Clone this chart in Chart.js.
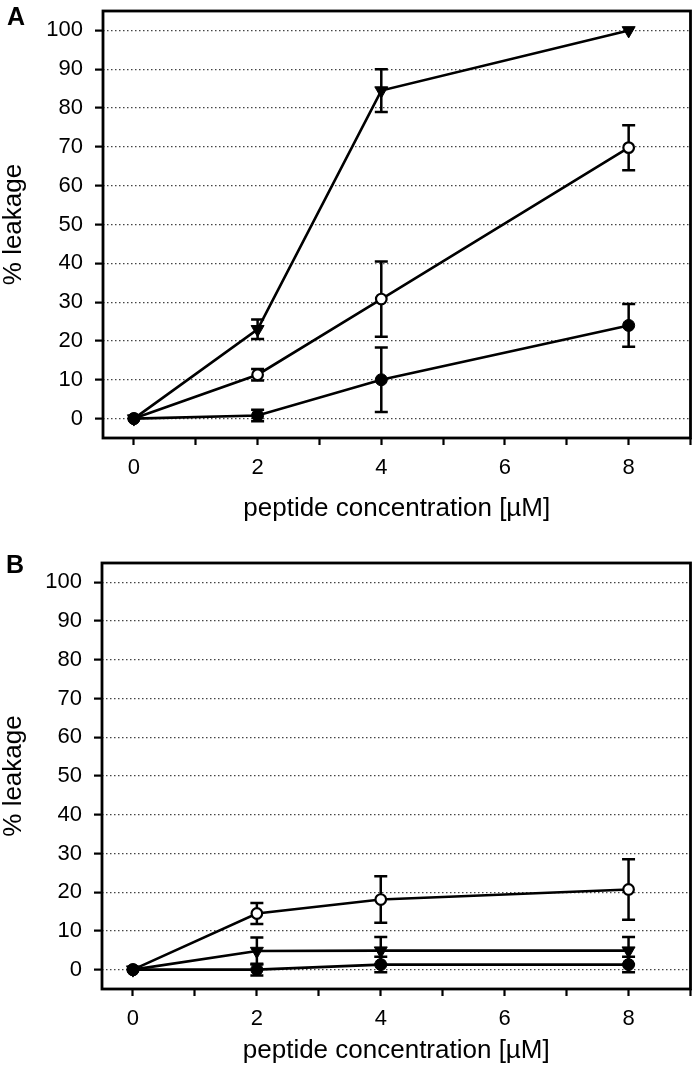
<!DOCTYPE html>
<html>
<head>
<meta charset="utf-8">
<script src="https://cdn.jsdelivr.net/npm/chart.js@4.4.1/dist/chart.umd.min.js"></script>
<style>
  body { margin: 0; background: #fff; width: 699px; height: 1066px; position: relative; overflow: hidden; }
  canvas { position: absolute; left: 0; }
  .panel-label { position: absolute; font: bold 25px 'Liberation Sans', Arial, sans-serif; line-height: 25px; color: #000; }
</style>
</head>
<body>
<canvas id="chartA" width="699" height="535" style="top:0"></canvas>
<canvas id="chartB" width="699" height="531" style="top:535px"></canvas>
<div class="panel-label" style="left:7px;top:4px">A</div>
<div class="panel-label" style="left:6px;top:552px">B</div>
<script>
// x values (peptide concentration, µM) shared by both panels
const concentrations = [0, 2, 4, 8];

// axis ticks
const yTickValues = [0, 10, 20, 30, 40, 50, 60, 70, 80, 90, 100];
const xTickValues = [0, 1, 2, 3, 4, 5, 6, 7, 8, 9];
const xTickLabels = ['0', '', '2', '', '4', '', '6', '', '8', ''];

// Panel A - % leakage and error (+/-)
const aTriangle = [0, 23, 84.5, 100];
const aTriangleErr = [0, 2.5, 5.5, 0];
const aOpen = [0, 11.3, 30.8, 69.8];
const aOpenErr = [0, 1.5, 9.7, 5.8];
const aFilled = [0, 0.8, 10, 24];
const aFilledErr = [0, 1.5, 8.3, 5.5];

// Panel B - % leakage and error (+/-)
const bTriangle = [0, 4.8, 4.9, 4.9];
const bTriangleErr = [0, 3.5, 3.5, 3.5];
const bOpen = [0, 14.5, 18.1, 20.7];
const bOpenErr = [0, 2.7, 6, 7.8];
const bFilled = [0, 0, 1.3, 1.3];
const bFilledErr = [0, 1.5, 2, 2];

Chart.defaults.font.family = "'Liberation Sans', Arial, sans-serif";
Chart.defaults.color = '#000';

function toPoints(values) {
    return concentrations.map((x, i) => ({ x: x, y: values[i] }));
}

// Draws vertical error bars with caps, behind the markers
const errorBarPlugin = {
    id: 'errorBars',
    beforeDatasetsDraw(chart) {
        const ctx = chart.ctx;
        const yScale = chart.scales.y;
        ctx.save();
        ctx.strokeStyle = '#000';
        ctx.lineWidth = 2.5;
        chart.data.datasets.forEach((ds, di) => {
            const meta = chart.getDatasetMeta(di);
            meta.data.forEach((pt, i) => {
                const err = ds.errors[i];
                if (!err) return;
                const v = ds.data[i].y;
                const top = yScale.getPixelForValue(v + err);
                const bottom = yScale.getPixelForValue(v - err);
                ctx.beginPath();
                ctx.moveTo(pt.x, top);
                ctx.lineTo(pt.x, bottom);
                ctx.moveTo(pt.x - 6.5, top);
                ctx.lineTo(pt.x + 6.5, top);
                ctx.moveTo(pt.x - 6.5, bottom);
                ctx.lineTo(pt.x + 6.5, bottom);
                ctx.stroke();
            });
        });
        ctx.restore();
    }
};

// Box around the plot area
const framePlugin = {
    id: 'frame',
    afterDraw(chart) {
        const a = chart.chartArea;
        const ctx = chart.ctx;
        ctx.save();
        ctx.strokeStyle = '#000';
        ctx.lineWidth = 2.8;
        ctx.strokeRect(a.left, a.top, a.right - a.left, a.bottom - a.top);
        ctx.restore();
    }
};

function seriesStyle(style) {
    const base = {
        borderColor: '#000',
        borderWidth: 2.6,
        pointBorderColor: '#000',
        pointBorderWidth: 2.2,
        tension: 0,
        fill: false
    };
    if (style === 'triangle') {
        return Object.assign(base, { pointStyle: 'triangle', rotation: 180, pointRadius: 7.5, pointBackgroundColor: '#000', pointBorderWidth: 1 });
    }
    if (style === 'open') {
        return Object.assign(base, { pointStyle: 'circle', pointRadius: 5.3, pointBackgroundColor: '#fff' });
    }
    return Object.assign(base, { pointStyle: 'circle', pointRadius: 6, pointBackgroundColor: '#000', pointBorderWidth: 1 });
}

function makePanel(canvasId, series, geo) {
    const datasets = series.map(s => Object.assign(seriesStyle(s.style), {
        data: toPoints(s.values),
        errors: s.errors
    }));

    return new Chart(document.getElementById(canvasId), {
        type: 'line',
        data: { datasets: datasets },
        plugins: [errorBarPlugin, framePlugin],
        options: {
            responsive: false,
            animation: false,
            events: [],
            layout: { padding: { top: geo.top, right: geo.right, left: 0, bottom: 0 } },
            plugins: { legend: { display: false }, tooltip: { enabled: false } },
            scales: {
                x: {
                    type: 'linear',
                    min: -0.5,
                    max: 9,
                    afterBuildTicks: scale => { scale.ticks = xTickValues.map(v => ({ value: v })); },
                    afterFit: scale => {
                        scale.height = geo.xAxisHeight;
                        scale.paddingLeft = 0;
                        scale.paddingRight = 0;
                    },
                    border: { display: false },
                    grid: { drawOnChartArea: false, tickLength: 7, tickWidth: 2.2, tickColor: '#000' },
                    ticks: {
                        autoSkip: false,
                        maxRotation: 0,
                        padding: 10,
                        font: { size: 22 },
                        color: '#000',
                        callback: (value, index) => xTickLabels[index]
                    },
                    title: {
                        display: true,
                        text: 'peptide concentration [µM]',
                        font: { size: 26, lineHeight: 1 },
                        color: '#000',
                        padding: { top: 0, bottom: geo.xTitlePad }
                    }
                },
                y: {
                    type: 'linear',
                    min: -5,
                    max: 105,
                    afterBuildTicks: scale => { scale.ticks = yTickValues.map(v => ({ value: v })); },
                    afterFit: scale => {
                        scale.width = geo.left;
                        scale.paddingTop = 0;
                        scale.paddingBottom = 0;
                    },
                    border: { display: false, dash: [1.5, 2.5] },
                    grid: {
                        color: '#444',
                        lineWidth: 1.2,
                        tickLength: 8,
                        tickWidth: 2.2,
                        tickColor: '#000',
                        tickBorderDash: []
                    },
                    ticks: { padding: 12, font: { size: 22 }, color: '#000' },
                    title: {
                        display: true,
                        text: '% leakage',
                        font: { size: 26, lineHeight: 1 },
                        color: '#000',
                        padding: { top: 1, bottom: 0 }
                    }
                }
            }
        }
    });
}

makePanel('chartA', [
    { style: 'filled', values: aFilled, errors: aFilledErr },
    { style: 'open', values: aOpen, errors: aOpenErr },
    { style: 'triangle', values: aTriangle, errors: aTriangleErr }
], { top: 11, right: 4, left: 103, xAxisHeight: 535 - 438, xTitlePad: 13 });

makePanel('chartB', [
    { style: 'filled', values: bFilled, errors: bFilledErr },
    { style: 'triangle', values: bTriangle, errors: bTriangleErr },
    { style: 'open', values: bOpen, errors: bOpenErr }
], { top: 28, right: 6, left: 102, xAxisHeight: 531 - 454, xTitlePad: 2 });
</script>
</body>
</html>
